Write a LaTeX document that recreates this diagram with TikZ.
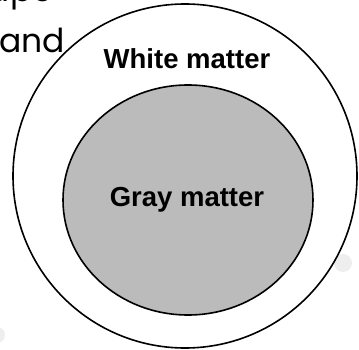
\documentclass[tikz,border=0pt]{standalone}
\usepackage{fontspec}
\setmainfont{Liberation Sans}
\newfontfamily\popfont{Poppins}
\definecolor{graymat}{HTML}{BBBBBB}
\definecolor{faint}{HTML}{EEEEEE}
\tikzset{
  ring/.style={draw=black, line width=1.6pt},
  lbl/.style={font=\fontsize{27.5}{33}\selectfont\bfseries, inner sep=0pt},
  bgtext/.style={font=\popfont\fontsize{33}{40}\selectfont, inner sep=0pt}
}
\begin{document}
\begin{tikzpicture}[x=1pt,y=1pt]
\useasboundingbox (0,0) rectangle (359,-350);
\clip (0,0) rectangle (359,-350);
\fill[white] (0,0) rectangle (359,-350);
\fill[faint] (343,-263) circle (9);
\fill[faint] (-3,-335) circle (8);
\node[bgtext, anchor=base east] (t1) at (53,-2) {upe};
\node[bgtext, anchor=base west] (t2) at (-1,-53) {and};
\draw[ring, fill=white] (185,-176) circle (172);
\draw[ring, fill=graymat] (188,-200) ellipse (125 and 115);
\node[lbl] (white) at (187,-59) {White matter};
\node[lbl] (gray) at (187,-200) {Gray matter};
\end{tikzpicture}
\end{document}
